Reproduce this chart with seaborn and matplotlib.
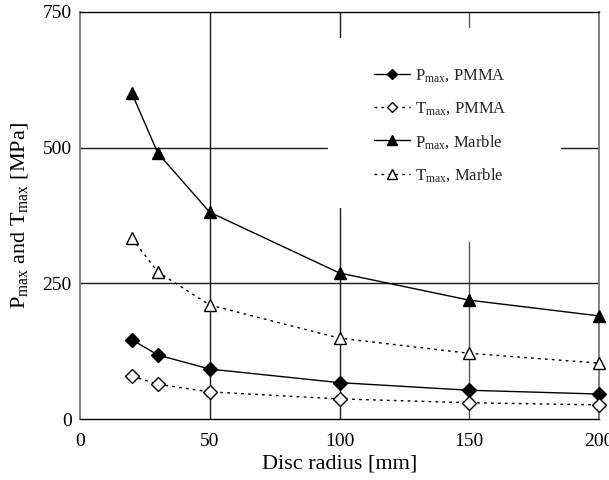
import matplotlib
matplotlib.use("Agg")
import matplotlib.pyplot as plt
import seaborn as sns
import pandas as pd
from matplotlib.lines import Line2D

# Disc radius [mm]
radius = [20, 30, 50, 100, 150, 200]

# Maximum stresses [MPa]
p_max_pmma = [146, 118, 92, 67, 53, 46]
t_max_pmma = [79, 64, 50, 37, 30, 26]
p_max_marble = [600, 490, 381, 269, 219, 190]
t_max_marble = [333, 271, 210, 149, 121, 103]

series_labels = [
    r"P$_\mathrm{max}$, PMMA",
    r"T$_\mathrm{max}$, PMMA",
    r"P$_\mathrm{max}$, Marble",
    r"T$_\mathrm{max}$, Marble",
]

x_ticks = [0, 50, 100, 150, 200]
y_ticks = [0, 250, 500, 750]

sns.set_theme(style="white")
plt.rcParams["font.family"] = ["Liberation Serif", "DejaVu Serif"]
plt.rcParams["mathtext.fontset"] = "custom"
plt.rcParams["mathtext.rm"] = "Liberation Serif"
plt.rcParams["mathtext.it"] = "Liberation Serif:italic"

fig = plt.figure(figsize=(6.09, 4.80), dpi=100)
ax = fig.add_axes([80 / 609, 61 / 480, 519 / 609, 407 / 480])

# grid segments (interrupted where the legend sits)
gc = "#1a1a1a"
ax.axvline(50, color=gc, lw=1.0, zorder=1)
ax.axvline(100, 0, 0.518, color=gc, lw=1.0, zorder=1)
ax.axvline(100, 0.939, 1, color=gc, lw=1.0, zorder=1)
ax.axvline(150, 0, 0.435, color="#555555", lw=1.0, zorder=1)
ax.axvline(150, 0.963, 1, color="#555555", lw=1.0, zorder=1)
ax.axhline(250, color=gc, lw=1.0, zorder=1)
ax.axhline(500, 0, 0.476, color=gc, lw=1.0, zorder=1)
ax.axhline(500, 0.927, 1, color=gc, lw=1.0, zorder=1)

dotted = (0, (2, 3))
styles = [
    dict(y=p_max_pmma, marker="D", mfc="black", ls="-", ms=7),
    dict(y=t_max_pmma, marker="D", mfc="white", ls=dotted, ms=7),
    dict(y=p_max_marble, marker="^", mfc="black", ls="-", ms=9),
    dict(y=t_max_marble, marker="^", mfc="white", ls=dotted, ms=9),
]

handles = []
for st, lab in zip(styles, series_labels):
    df = pd.DataFrame({"radius": radius, "stress": st["y"]})
    sns.lineplot(data=df, x="radius", y="stress", ax=ax, color="black",
                 lw=1.0, linestyle=st["ls"], marker=st["marker"],
                 markersize=st["ms"], markerfacecolor=st["mfc"],
                 markeredgecolor="black", markeredgewidth=1.0,
                 zorder=3, clip_on=False)
    handles.append(Line2D([], [], color="black", lw=1.0, linestyle=st["ls"],
                          marker=st["marker"], markersize=st["ms"] - 1.5,
                          markerfacecolor=st["mfc"], markeredgecolor="black"))

ax.set_xlim(0, 200)
ax.set_ylim(0, 750)
ax.set_xticks(x_ticks)
ax.set_yticks(y_ticks)
ax.set_xticklabels([str(v) for v in x_ticks])
ax.set_yticklabels([str(v) for v in y_ticks])
ax.tick_params(axis="both", length=0, labelsize=14, colors="black")
ax.tick_params(axis="x", pad=10)
ax.tick_params(axis="y", pad=6)

ax.set_xlabel("Disc radius [mm]", fontsize=16, color="black", labelpad=3)
ax.set_ylabel(r"P$_\mathrm{max}$ and T$_\mathrm{max}$ [MPa]", fontsize=16,
              color="black", labelpad=9)

for side in ["top", "bottom"]:
    ax.spines[side].set_color("black")
    ax.spines[side].set_linewidth(1.0)
for side in ["left", "right"]:
    ax.spines[side].set_color("#777777")
    ax.spines[side].set_linewidth(1.3)

leg = ax.legend(handles, series_labels, loc="upper left",
                bbox_to_anchor=(0.551, 0.885), frameon=False, fontsize=12,
                handlelength=2.15, labelspacing=0.96, borderpad=0,
                handletextpad=0.3)

fig.savefig("out.png", dpi=100)
